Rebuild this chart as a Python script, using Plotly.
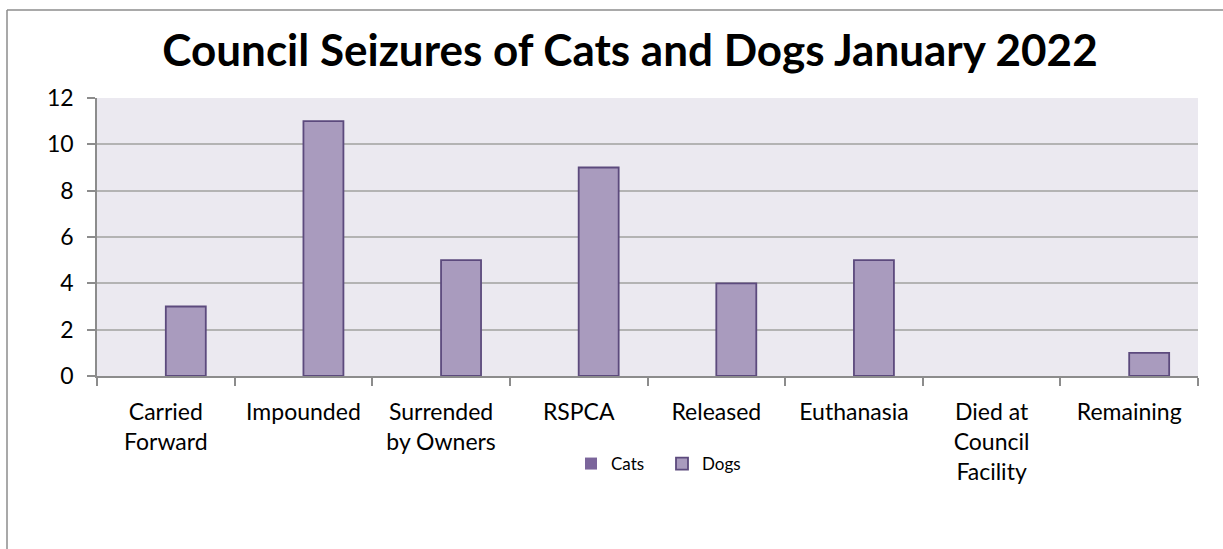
import plotly.graph_objects as go

categories = ["Carried<br>Forward", "Impounded", "Surrended<br>by Owners", "RSPCA",
              "Released", "Euthanasia", "Died at<br>Council<br>Facility", "Remaining"]
cats = [0, 0, 0, 0, 0, 0, 0, 0]
dogs = [3, 11, 5, 9, 4, 5, 0, 1]
y_ticks = [0, 2, 4, 6, 8, 10, 12]

W, H = 1223, 549
L, R, T, B = 97, 25, 98, 173
pw, ph = W - L - R, H - T - B

def px(x):
    return (x - L) / pw

def py(y):
    return (H - B - y) / ph

FONT = "Lato"
fig = go.Figure()
fig.add_bar(name="Cats", x=categories, y=cats,
            marker=dict(color="#7B659B", line=dict(color="#5C4A7D", width=0)))
fig.add_bar(name="Dogs", x=categories, y=dogs,
            marker=dict(color="#A99BBE",
                        line=dict(color="#5C4A7D", width=[1.8 if v > 0 else 0 for v in dogs])))

fig.update_layout(
    width=W, height=H,
    margin=dict(l=L, r=R, t=T, b=B),
    paper_bgcolor="white",
    plot_bgcolor="#EBE9F0",
    barmode="group", bargap=0.419, bargroupgap=0,
    font=dict(family=FONT, color="#000000"),
    title=dict(text="<b>Council Seizures of Cats and Dogs January 2022</b>",
               x=630 / W, xanchor="center", xref="container",
               y=1 - 51 / H, yanchor="middle", yref="container",
               font=dict(family=FONT, size=44, color="#000000")),
    showlegend=True,
    legend=dict(orientation="h", x=px(571), xanchor="left", y=py(464), yanchor="middle",
                font=dict(family=FONT, size=17, color="#000000"),
                entrywidth=46, entrywidthmode="pixels",
                bgcolor="rgba(0,0,0,0)", traceorder="normal"),
    xaxis=dict(type="category", showgrid=False, showline=True, linecolor="#8C8C8C", linewidth=1.5,
               ticks="outside", ticklen=8, tickcolor="#8C8C8C", tickwidth=1.5,
               tickson="boundaries", ticklabelstandoff=15,
               tickfont=dict(family=FONT, size=23, color="#000000"),
               fixedrange=True),
    yaxis=dict(range=[0, 12], tickvals=y_ticks, showgrid=True, gridcolor="#B3B3B3", gridwidth=1.5,
               showline=True, linecolor="#8C8C8C", linewidth=1.5,
               ticks="outside", ticklen=8, tickcolor="#8C8C8C", tickwidth=1.5,
               ticklabelstandoff=9,
               tickfont=dict(family=FONT, size=23, color="#000000"), zeroline=False,
               fixedrange=True),
)

# outer chart border (left and top edges visible in the frame)
fig.add_shape(type="line", xref="paper", yref="paper",
              x0=px(7), x1=px(7), y0=py(10), y1=py(H + 5),
              line=dict(color="#8C8C8C", width=1.5))
fig.add_shape(type="line", xref="paper", yref="paper",
              x0=px(7), x1=px(W + 5), y0=py(10), y1=py(10),
              line=dict(color="#8C8C8C", width=1.5))

fig.write_html("out.html")
